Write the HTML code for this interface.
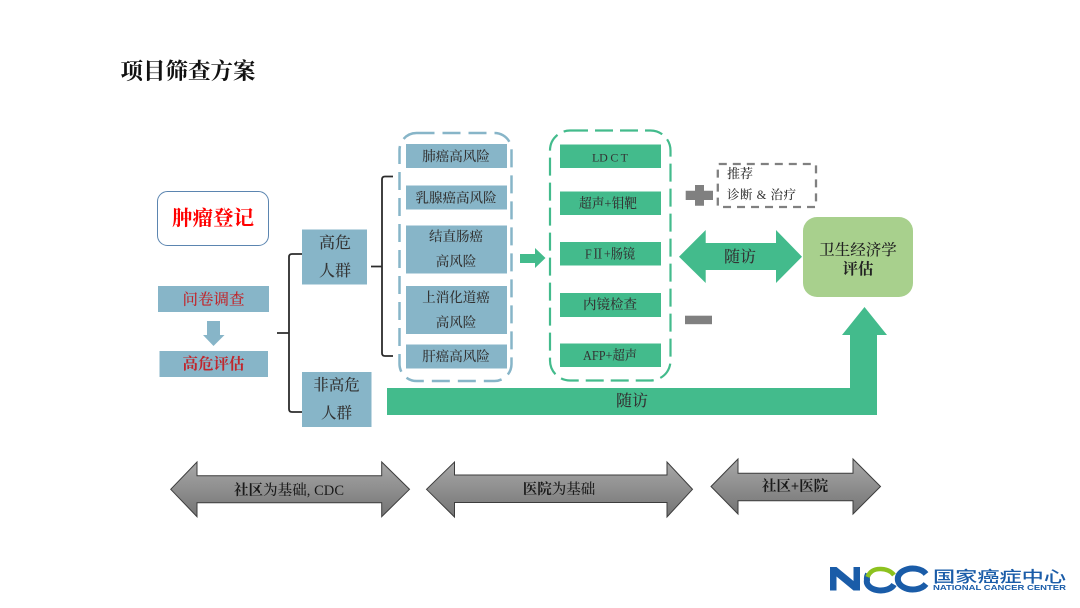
<!DOCTYPE html>
<html><head><meta charset="utf-8"><style>
html,body{margin:0;padding:0;background:#fff;width:1080px;height:608px;overflow:hidden}
svg{display:block;filter:blur(.35px)}
text{font-family:"Liberation Serif","Noto Serif CJK SC",serif;font-weight:500;fill:#333;text-anchor:middle}
.l{font-family:"Liberation Sans","Noto Sans CJK SC",sans-serif}
</style></head><body>
<svg width="1080" height="608" viewBox="0 0 1080 608" xmlns="http://www.w3.org/2000/svg">
<defs><linearGradient id="g" x1="0" y1="0" x2="0" y2="1"><stop offset="0" stop-color="#a8a8a8"/><stop offset="1" stop-color="#747474"/></linearGradient></defs>
<rect width="1080" height="608" fill="#fff"/>
<text x="188" y="79" font-size="22.5" style="fill:#111;font-weight:700" textLength="135">项目筛查方案</text>

<!-- left column -->
<rect x="157.500" y="191.500" width="111" height="54" rx="10" fill="#fff" stroke="#5b85b0" stroke-width="1"/>
<text x="213" y="225" font-size="20.500" style="fill:#f00;font-weight:700">肿瘤登记</text>
<rect x="158" y="286" width="111" height="26" fill="#87b5c8"/>
<text x="213.500" y="304.500" font-size="15.500" style="fill:#c0272d">问卷调查</text>
<polygon points="207,321 220,321 220,335 224.500,335 213.500,346 203,335 207,335" fill="#87b5c8"/>
<rect x="159.500" y="351" width="108.500" height="26" fill="#87b5c8"/>
<text x="213.500" y="369" font-size="15.500" style="fill:#c0272d;font-weight:700">高危评估</text>

<rect x="302" y="229.500" width="65" height="55" fill="#87b5c8"/>
<text x="335" y="248" font-size="16">高危</text>
<text x="335" y="276" font-size="16">人群</text>
<rect x="302" y="372" width="69.500" height="55" fill="#87b5c8"/>
<text x="336.500" y="390" font-size="15.500">非高危</text>
<text x="336.500" y="418" font-size="15.500">人群</text>

<!-- brackets -->
<path d="M277 333H289M302 254H292Q289 254 289 257V409Q289 412 292 412H302" fill="none" stroke="#2c2c2c" stroke-width="1.800"/>
<path d="M371 266.500H382M393 176.500H385Q382 176.500 382 179.500V353Q382 356 385 356H393" fill="none" stroke="#2c2c2c" stroke-width="1.800"/>

<!-- risk column -->
<rect x="399.500" y="133" width="112" height="248" rx="17" fill="none" stroke="#87b5c8" stroke-width="2.500" stroke-dasharray="18 8"/>
<g fill="#87b5c8">
<rect x="406" y="144" width="101" height="24"/>
<rect x="406" y="185.500" width="101" height="24"/>
<rect x="406" y="225.500" width="101" height="48"/>
<rect x="406" y="286" width="101" height="48"/>
<rect x="406" y="344.500" width="101" height="24"/>
</g>
<g font-size="13.500">
<text x="456" y="161">肺癌高风险</text>
<text x="456" y="202.500">乳腺癌高风险</text>
<text x="456" y="241">结直肠癌</text>
<text x="456" y="266">高风险</text>
<text x="456" y="302">上消化道癌</text>
<text x="456" y="327">高风险</text>
<text x="456" y="361">肝癌高风险</text>
</g>

<!-- small arrow -->
<polygon points="520,254 535,254 535,248 545.500,258 535,268 535,263 520,263" fill="#43bb8c"/>

<!-- test column -->
<rect x="550" y="130.500" width="120.500" height="250" rx="20" fill="none" stroke="#43bb8c" stroke-width="2.200" stroke-dasharray="18 7"/>
<g fill="#43bb8c">
<rect x="560" y="144.500" width="101" height="23.500"/>
<rect x="560" y="191.500" width="101" height="23.500"/>
<rect x="560" y="242" width="101" height="23.500"/>
<rect x="560" y="293" width="101" height="24"/>
<rect x="560" y="343.500" width="101" height="23.500"/>
</g>
<g font-size="13.500">
<text x="610" y="161.500" font-size="12" textLength="36">LD C T</text>
<text x="608" y="208" textLength="58" lengthAdjust="spacingAndGlyphs">超声+钼靶</text>
<text x="610" y="258.500" textLength="50" lengthAdjust="spacingAndGlyphs">FⅡ+肠镜</text>
<text x="610" y="309">内镜检查</text>
<text x="610" y="360" textLength="54" lengthAdjust="spacingAndGlyphs">AFP+超声</text>
</g>

<!-- plus / minus -->
<polygon points="695,185 704,185 704,190.700 713,190.700 713,200 704,200 704,205.700 695,205.700 695,200 685.700,200 685.700,190.700 695,190.700" fill="#808080"/>
<rect x="685" y="315.700" width="27" height="8.500" fill="#808080"/>
<rect x="717.800" y="164" width="98.200" height="43" rx="1" fill="none" stroke="#808080" stroke-width="2.300" stroke-dasharray="8 6"/>
<text x="740" y="178" font-size="13">推荐</text>
<text x="727" y="199" font-size="12.500" style="text-anchor:start" textLength="69">诊断 &amp; 治疗</text>

<!-- double arrow -->
<polygon points="679,256.700 705.700,230 705.700,243 776,243 776,230 802,256.700 776,283 776,270 705.700,270 705.700,283" fill="#43bb8c"/>
<text x="740" y="262" font-size="16">随访</text>

<!-- health box -->
<rect x="803" y="217" width="110" height="80" rx="14" fill="#a8d08d"/>
<text x="858" y="255" font-size="15.500" style="fill:#222">卫生经济学</text>
<text x="858" y="274" font-size="15.500" style="fill:#222;font-weight:700">评估</text>

<!-- long arrow -->
<polygon points="387,388 850,388 850,335 842,335 864.500,307 887,335 877,335 877,415 387,415" fill="#43bb8c"/>
<text x="632" y="406" font-size="16">随访</text>

<!-- bottom arrows -->
<g fill="url(#g)" stroke="#3c3c3c" stroke-width="1">
<polygon points="170.700,489.300 197,462 197,475.700 381.700,475.700 381.700,462 409.500,489.300 381.700,516.700 381.700,502.700 197,502.700 197,516.700"/>
<polygon points="426.500,489.300 454.500,462 454.500,475 667,475 667,462 692.500,489.300 667,517 667,502.500 454.500,502.500 454.500,517"/>
<polygon points="711,486.500 738,459 738,473.300 853,473.300 853,459 880.500,486.500 853,514 853,500.700 738,500.700 738,514"/>
</g>
<text x="289" y="495" font-size="14.500" style="fill:#1a1a1a" textLength="110"><tspan style="font-weight:700">社区</tspan>为基础, CDC</text>
<text x="559" y="494" font-size="14.500" style="fill:#1a1a1a"><tspan style="font-weight:700">医院</tspan>为基础</text>
<text x="795" y="491" font-size="14.500" style="fill:#1a1a1a;font-weight:700">社区+医院</text>

<!-- logo -->
<polygon points="830,590.500 830,567 836.500,567 853.500,581 853.500,567 860,567 860,590.500 853.500,590.500 836.500,576.500 836.500,590.500" fill="#1a5ca8"/>
<path d="M894 584.500A14 9 0 0 1 867 580Q866.500 577 868 574" fill="none" stroke="#1a5ca8" stroke-width="6"/>
<path d="M867.500 577Q871 568.500 881 569Q890 569.500 894 575" fill="none" stroke="#8dc21f" stroke-width="4.500"/>
<path d="M926 584A15 10.500 0 1 1 926 574" fill="none" stroke="#1a5ca8" stroke-width="6"/>
<text class="l" x="999.500" y="582" font-size="15.500" textLength="133" lengthAdjust="spacingAndGlyphs" style="fill:#1a5ca8;font-weight:500;font-family:'Liberation Sans','Noto Sans CJK SC',sans-serif">国家癌症中心</text>
<text x="999.500" y="590" font-size="7" textLength="133" lengthAdjust="spacingAndGlyphs" style="fill:#1a5ca8;font-weight:700;font-family:'Liberation Sans',sans-serif">NATIONAL CANCER CENTER</text>
</svg>
</body></html>
